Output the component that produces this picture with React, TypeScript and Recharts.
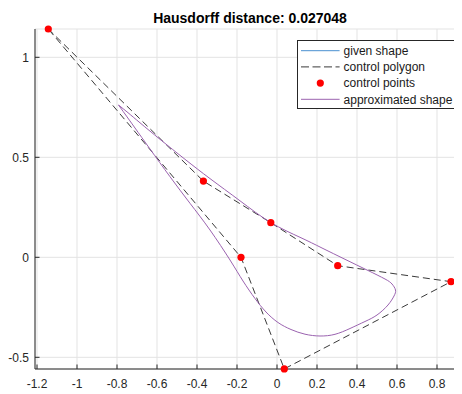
import React from 'react';
import { ComposedChart, Line, Scatter, XAxis, YAxis, CartesianGrid, Legend } from 'recharts';

const FONT = '"Liberation Sans", Arial, Helvetica, sans-serif';

const chartTitle = 'Hausdorff distance: 0.027048';

// control points in control-polygon order
const controlX = [-1.1435, -0.368, -0.031, 0.3035, 0.87, 0.0365, -0.18];
const controlY = [1.1415, 0.381, 0.173, -0.042, -0.122, -0.558, 0.0];

// approximated (closed) shape
const shapeX = [
  -0.7925, -0.76, -0.71, -0.635, -0.535, -0.435, -0.335, -0.235, -0.17, -0.11,
  -0.055, 0.005, 0.07, 0.14, 0.215, 0.29, 0.365, 0.44, 0.5, 0.555,
  0.585, 0.5925, 0.575, 0.54, 0.45, 0.34, 0.225, 0.115, -0.0315, -0.185,
  -0.335, -0.46, -0.585, -0.685, -0.745,
];
const shapeY = [
  0.7615, 0.7165, 0.6465, 0.5415, 0.403, 0.27, 0.1365, -0.0135, -0.1185, -0.206,
  -0.2735, -0.326, -0.361, -0.3845, -0.3935, -0.385, -0.356, -0.321, -0.2885, -0.2385,
  -0.1935, -0.1635, -0.1335, -0.1085, -0.0635, -0.01, 0.0465, 0.1, 0.174, 0.2825,
  0.3935, 0.49, 0.59, 0.6725, 0.723,
];

const xTicks = [-1.2, -1, -0.8, -0.6, -0.4, -0.2, 0, 0.2, 0.4, 0.6, 0.8];
const yTicks = [-0.5, 0, 0.5, 1];
const xDomain = [-1.21, 0.925];
const yDomain = [-0.5585, 1.1415];

const legendLabels = ['given shape', 'control polygon', 'control points', 'approximated shape'];

const COLORS = {
  given: '#4a90d0',
  polygon: '#3a3a3a',
  points: '#ff0000',
  shape: '#9b63b0',
  axis: '#262626',
  grid: '#e3e3e3',
};

const controlPoints = controlX.map((x, i) => ({ x, y: controlY[i] }));
const controlPolygon = [...controlPoints, controlPoints[0]];
const shapePoints = shapeX.map((x, i) => ({ x, y: shapeY[i] }));
const shapeClosed = [...shapePoints, shapePoints[0]];

const fmt = (v: number) => String(Math.round(v * 10) / 10);

const XTick = (props: any) => {
  const { x, y, payload } = props;
  return (
    <g>
      <line x1={x} x2={x} y1={y} y2={y - 4.5} stroke={COLORS.axis} strokeWidth={1} />
      <text x={x} y={y + 19.3} textAnchor="middle" fontSize={12} fontFamily={FONT} fill={COLORS.axis}>
        {fmt(payload.value)}
      </text>
    </g>
  );
};

const YTick = (props: any) => {
  const { x, y, payload } = props;
  return (
    <g>
      <line x1={x} x2={x + 4.5} y1={y} y2={y} stroke={COLORS.axis} strokeWidth={1} />
      <text x={x - 6} y={y + 4.2} textAnchor="end" fontSize={12} fontFamily={FONT} fill={COLORS.axis}>
        {fmt(payload.value)}
      </text>
    </g>
  );
};

const LegendBox = () => {
  const rowY = (i: number) => 10.7 + i * 16.2;
  return (
    <svg width={158} height={69} style={{ display: 'block' }}>
      <rect x={0.5} y={0.5} width={157} height={68} fill="#ffffff" stroke={COLORS.axis} strokeWidth={1} />
      <line x1={4} x2={42.6} y1={rowY(0)} y2={rowY(0)} stroke={COLORS.given} strokeWidth={1} />
      <line x1={4} x2={42.6} y1={rowY(1)} y2={rowY(1)} stroke={COLORS.polygon} strokeWidth={1} strokeDasharray="8 3.5" />
      <circle cx={23.3} cy={rowY(2)} r={3.6} fill={COLORS.points} />
      <line x1={4} x2={42.6} y1={rowY(3)} y2={rowY(3)} stroke={COLORS.shape} strokeWidth={1} />
      {legendLabels.map((t, i) => (
        <text key={t} x={46.6} y={rowY(i) + 4.2} fontSize={12} fontFamily={FONT} fill="#1a1a1a">
          {t}
        </text>
      ))}
    </svg>
  );
};

export default function App() {
  return (
    <div style={{ position: 'relative', width: 454, height: 386 }}>
      <ComposedChart width={454} height={386} margin={{ top: 21, right: 0, bottom: 0, left: 0 }}>
        <CartesianGrid stroke={COLORS.grid} strokeWidth={1} />
        <XAxis
          type="number"
          dataKey="x"
          domain={xDomain}
          ticks={xTicks}
          interval={0}
          height={25}
          tickSize={0}
          tickMargin={0}
          tickLine={false}
          axisLine={{ stroke: COLORS.axis, strokeWidth: 1 }}
          tick={<XTick />}
        />
        <YAxis
          type="number"
          dataKey="y"
          domain={yDomain}
          ticks={yTicks}
          interval={0}
          width={27}
          tickSize={0}
          tickMargin={0}
          tickLine={false}
          axisLine={{ stroke: COLORS.axis, strokeWidth: 1 }}
          tick={<YTick />}
        />
        <Line
          data={controlPolygon}
          dataKey="y"
          type="linear"
          stroke={COLORS.polygon}
          strokeWidth={1}
          strokeDasharray="7 4"
          dot={false}
          activeDot={false}
          isAnimationActive={false}
        />
        <Scatter
          data={controlPoints}
          dataKey="y"
          fill={COLORS.points}
          shape={(p: any) => <circle cx={p.cx} cy={p.cy} r={3.6} fill={COLORS.points} />}
          isAnimationActive={false}
        />
        <Line
          data={shapeClosed}
          dataKey="y"
          type="natural"
          stroke={COLORS.shape}
          strokeWidth={1}
          dot={false}
          activeDot={false}
          isAnimationActive={false}
        />
        <Legend
          layout="vertical"
          align="center"
          verticalAlign="middle"
          content={() => <LegendBox />}
          wrapperStyle={{ position: 'absolute', left: 288.7, top: 32, width: 158, height: 69 }}
        />
      </ComposedChart>
      <svg
        width={454}
        height={30}
        style={{ position: 'absolute', left: 0, top: 0, pointerEvents: 'none' }}
      >
        <text x={242} y={14.7} textAnchor="middle" fontSize={14} fontWeight="bold" fontFamily={FONT} fill="#000">
          {chartTitle}
        </text>
      </svg>
    </div>
  );
}
